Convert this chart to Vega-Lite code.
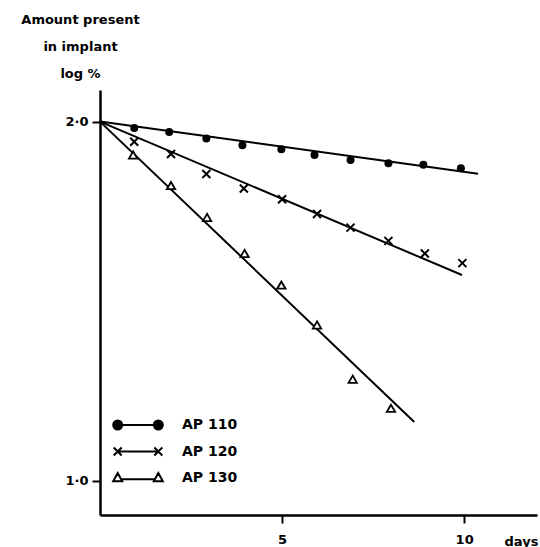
{
  "$schema": "https://vega.github.io/schema/vega-lite/v6.json",
  "width": 437,
  "height": 425,
  "autosize": {"type": "none"},
  "padding": {"left": 100, "top": 90, "right": 3, "bottom": 32},
  "background": "white",
  "config": {
    "view": {"stroke": null},
    "font": "DejaVu Sans",
    "axis": {
      "domainColor": "black", "tickColor": "black", "labelColor": "black", "titleColor": "black",
      "labelFont": "DejaVu Sans", "labelFontWeight": "bold", "labelFontSize": 13,
      "titleFont": "DejaVu Sans", "titleFontWeight": "bold", "titleFontSize": 13,
      "grid": false, "tickSize": 8, "tickWidth": 2, "domainWidth": 2.5
    }
  },
  "datasets": {
    "lines": [
      {"series": "AP 110", "day": 0, "value": 2.0},
      {"series": "AP 110", "day": 10.38, "value": 1.855},
      {"series": "AP 120", "day": 0, "value": 2.0},
      {"series": "AP 120", "day": 9.94, "value": 1.573},
      {"series": "AP 130", "day": 0, "value": 2.0},
      {"series": "AP 130", "day": 8.63, "value": 1.164}
    ],
    "points": [
      {"series": "AP 110", "day": 0.94, "value": 1.982},
      {"series": "AP 110", "day": 1.90, "value": 1.971},
      {"series": "AP 110", "day": 2.92, "value": 1.953},
      {"series": "AP 110", "day": 3.91, "value": 1.934},
      {"series": "AP 110", "day": 4.98, "value": 1.923},
      {"series": "AP 110", "day": 5.89, "value": 1.907},
      {"series": "AP 110", "day": 6.88, "value": 1.893},
      {"series": "AP 110", "day": 7.92, "value": 1.884},
      {"series": "AP 110", "day": 8.88, "value": 1.880},
      {"series": "AP 110", "day": 9.91, "value": 1.870},
      {"series": "AP 120", "day": 0.94, "value": 1.944},
      {"series": "AP 120", "day": 1.95, "value": 1.910},
      {"series": "AP 120", "day": 2.92, "value": 1.854},
      {"series": "AP 120", "day": 3.95, "value": 1.814},
      {"series": "AP 120", "day": 5.0, "value": 1.784},
      {"series": "AP 120", "day": 5.96, "value": 1.743},
      {"series": "AP 120", "day": 6.88, "value": 1.705},
      {"series": "AP 120", "day": 7.92, "value": 1.668},
      {"series": "AP 120", "day": 8.92, "value": 1.633},
      {"series": "AP 120", "day": 9.95, "value": 1.606},
      {"series": "AP 130", "day": 0.91, "value": 1.907},
      {"series": "AP 130", "day": 1.95, "value": 1.822},
      {"series": "AP 130", "day": 2.94, "value": 1.733},
      {"series": "AP 130", "day": 3.97, "value": 1.633},
      {"series": "AP 130", "day": 4.98, "value": 1.545},
      {"series": "AP 130", "day": 5.96, "value": 1.434},
      {"series": "AP 130", "day": 6.94, "value": 1.283},
      {"series": "AP 130", "day": 7.99, "value": 1.202}
    ]
  },
  "encoding": {
    "x": {
      "field": "day", "type": "quantitative",
      "scale": {"domain": [0, 12], "nice": false, "zero": false},
      "axis": {
        "values": [5, 10], "format": "d", "title": "days",
        "titleX": 421, "titleY": 30, "titleBaseline": "alphabetic", "titleAlign": "center",
        "labelPadding": 10, "labelFlush": false
      }
    },
    "y": {
      "field": "value", "type": "quantitative",
      "scale": {"domain": [0.905, 2.088], "nice": false, "zero": false},
      "axis": {
        "values": [1, 2], "format": ".1f", "labelExpr": "replace(datum.label, '.', '·')",
        "title": ["Amount present", "in implant", "log %"],
        "titleAngle": 0, "titleAlign": "center", "titleBaseline": "alphabetic",
        "titleX": -20, "titleY": -67, "titleLineHeight": 27, "labelPadding": 4
      }
    }
  },
  "layer": [
    {
      "data": {"name": "lines"},
      "mark": {"type": "line", "strokeWidth": 2, "clip": false},
      "encoding": {
        "stroke": {
          "field": "series", "type": "nominal",
          "scale": {"range": ["black", "black", "black"]},
          "legend": {
            "orient": "none", "legendX": 31, "legendY": 328, "title": null, "padding": 0,
            "symbolSize": 16, "symbolStrokeWidth": 2,
            "labelFont": "DejaVu Sans", "labelFontWeight": "bold", "labelFontSize": 14, "labelColor": "black",
            "labelOffset": 37, "rowPadding": 9.5,
            "encode": {
              "symbols": {
                "update": {
                  "shape": {"signal": "datum.value === 'AP 110' ? 'M-10.15,0L10.15,0M-12.4,0a2.25,2.25 0 1,0 4.5,0a2.25,2.25 0 1,0 -4.5,0M7.9,0a2.25,2.25 0 1,0 4.5,0a2.25,2.25 0 1,0 -4.5,0' : datum.value === 'AP 120' ? 'M-10.15,0L10.15,0M-12.15,-2L-8.15,2M-12.15,2L-8.15,-2M8.15,-2L12.15,2M8.15,2L12.15,-2' : 'M-8.2,0.6L8.2,0.6M-10.15,-2.45L-7.9,1.65L-12.4,1.65ZM10.15,-2.45L12.4,1.65L7.9,1.65Z'"},
                  "fill": {"signal": "datum.value === 'AP 110' ? 'black' : 'white'"},
                  "stroke": {"value": "black"},
                  "strokeWidth": {"value": 2},
                  "opacity": {"value": 1}
                }
              }
            }
          }
        }
      }
    },
    {
      "data": {"name": "points"},
      "transform": [{"filter": "datum.series === 'AP 110'"}],
      "mark": {"type": "point", "shape": "circle", "filled": true, "color": "black", "size": 64, "opacity": 1}
    },
    {
      "data": {"name": "points"},
      "transform": [{"filter": "datum.series === 'AP 120'"}],
      "mark": {"type": "point", "shape": "M-1,-1L1,1M-1,1L1,-1", "filled": false, "color": "black", "strokeWidth": 2, "size": 64, "opacity": 1}
    },
    {
      "data": {"name": "points"},
      "transform": [{"filter": "datum.series === 'AP 130'"}],
      "mark": {"type": "point", "shape": "triangle-up", "fill": "white", "stroke": "black", "strokeWidth": 1.8, "size": 70, "opacity": 1, "fillOpacity": 1}
    }
  ]
}
